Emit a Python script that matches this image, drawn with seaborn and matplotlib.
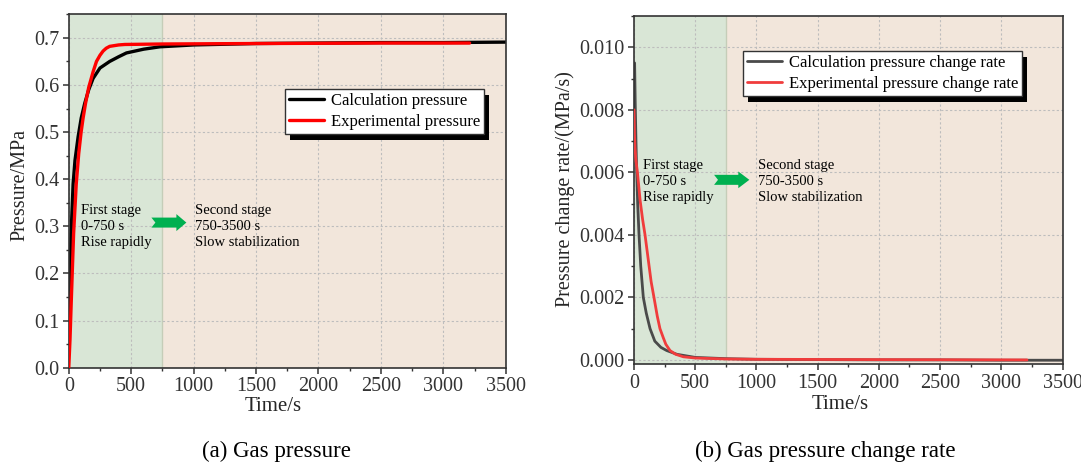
import numpy as np
import pandas as pd
import matplotlib
matplotlib.use("Agg")
import matplotlib.pyplot as plt
from matplotlib.patches import Polygon, Rectangle
from matplotlib.ticker import AutoMinorLocator, MultipleLocator
import seaborn as sns

# ---- data ----
# (a) gas pressure, MPa
calc_p_time = [0, 4, 10, 19, 35, 50, 75, 100, 128, 160, 195, 250, 328, 400, 462,
               600, 729, 1000, 1500, 2000, 2500, 3000, 3500]
calc_p_val = [0.085, 0.16, 0.22, 0.285, 0.39, 0.44, 0.49, 0.53, 0.561, 0.59, 0.614,
              0.636, 0.650, 0.660, 0.668, 0.676, 0.681, 0.685, 0.688, 0.689, 0.690,
              0.690, 0.691]
exp_p_time = [0, 10, 20, 39, 60, 80, 99, 115, 135, 160, 195, 222, 250, 275, 300,
              328, 400, 450, 750, 1500, 2500, 3210]
exp_p_val = [0.0, 0.06, 0.14, 0.285, 0.39, 0.455, 0.50, 0.53, 0.562, 0.595, 0.628,
             0.650, 0.663, 0.672, 0.678, 0.682, 0.685, 0.686, 0.687, 0.688, 0.689,
             0.689]

# (b) gas pressure change rate, MPa/s
calc_r_time = [5, 10, 16, 22, 30, 41, 55, 76, 100, 131, 170, 220, 267, 350, 500,
               750, 1000, 1500, 2000, 2500, 3000, 3500]
calc_r_val = [0.0095, 0.0082, 0.0070, 0.0060, 0.0050, 0.0040, 0.0030, 0.0020,
              0.0015, 0.0010, 0.0006, 0.0004, 0.0003, 0.00018, 0.00008, 0.00004,
              0.00002, 0.00001, 0.0, 0.0, -0.00001, -0.00001]
exp_r_time = [0, 4, 8, 15, 28, 50, 70, 90, 120, 140, 163, 190, 212, 240, 260, 294,
              340, 403, 500, 750, 1000, 2000, 3210]
exp_r_val = [0.0080, 0.0072, 0.0068, 0.0064, 0.0060, 0.0051, 0.0045, 0.0040,
             0.0031, 0.0025, 0.0020, 0.0014, 0.0010, 0.0007, 0.0005, 0.0003,
             0.00018, 0.0001, 0.00006, 0.00003, 0.00002, 0.00001, 0.0]

stage_lines_1 = ["First stage", "0-750 s", "Rise rapidly"]
stage_lines_2 = ["Second stage", "750-3500 s", "Slow stabilization"]
STAGE_SPLIT = 750
T_MAX = 3500

GREEN_BG = "#d9e6d6"
BEIGE_BG = "#f2e6db"
ARROW_GREEN = "#00b050"

sns.set_theme(style="ticks")
plt.rcParams["font.family"] = ["Liberation Serif", "DejaVu Serif"]
plt.rcParams["axes.edgecolor"] = "#333333"
plt.rcParams["xtick.color"] = "#333333"
plt.rcParams["ytick.color"] = "#333333"
plt.rcParams["text.color"] = "black"

fig = plt.figure(figsize=(10.81, 4.63), dpi=100)
ax1 = fig.add_axes([0.0636, 0.2058, 0.4043, 0.7633])
ax2 = fig.add_axes([0.5865, 0.2132, 0.3964, 0.7522])


def stage_background(ax):
    ax.axvspan(0, STAGE_SPLIT, color=GREEN_BG, zorder=0.1, lw=0)
    ax.axvspan(STAGE_SPLIT, T_MAX, color=BEIGE_BG, zorder=0.1, lw=0)
    ax.axvline(STAGE_SPLIT, color="#c5cdb8", lw=1.0, zorder=0.2)


def green_arrow(ax, x0, x1, xh, yc, hh, bh, notch):
    pts = [(x0, yc + bh), (xh, yc + bh), (xh, yc + hh), (x1, yc),
           (xh, yc - hh), (xh, yc - bh), (x0, yc - bh), (x0 + notch, yc)]
    ax.add_patch(Polygon(pts, closed=True, color=ARROW_GREEN, lw=0, zorder=3))


def style_axes(ax):
    ax.set_axisbelow(True)
    ax.grid(True, color="#bdbdbd", lw=0.8, linestyle=(0, (2, 2)), zorder=0.5)
    ax.xaxis.set_minor_locator(AutoMinorLocator(2))
    ax.yaxis.set_minor_locator(AutoMinorLocator(2))
    ax.tick_params(which="major", direction="out", length=4, width=1.1,
                   labelsize=14.5, pad=3)
    ax.tick_params(which="minor", direction="out", length=2.5, width=1.0)
    for s in ax.spines.values():
        s.set_visible(True)
        s.set_linewidth(1.2)
        s.set_color("#333333")


def shadow_legend(ax, leg, dx=5, dy=6):
    fig.canvas.draw()
    bb = leg.get_window_extent()
    inv = fig.transFigure.inverted()
    (x0, y0), (x1, y1) = inv.transform([(bb.x0 + dx, bb.y0 - dy),
                                         (bb.x1 + dx, bb.y1 - dy)])
    ax.add_patch(Rectangle((x0, y0), x1 - x0, y1 - y0, transform=fig.transFigure,
                           color="black", lw=0, zorder=4.9, clip_on=False))


# ---- (a) gas pressure ----
stage_background(ax1)
sns.lineplot(x=calc_p_time, y=calc_p_val, ax=ax1, color="black", lw=2.4,
             label="Calculation pressure", sort=False, zorder=2.5)
sns.lineplot(x=exp_p_time, y=exp_p_val, ax=ax1, color="#ff0000", lw=2.4,
             label="Experimental pressure", sort=False, zorder=2.6)
ax1.set_xlim(0, T_MAX)
ax1.set_ylim(0, 0.75)
ax1.xaxis.set_major_locator(MultipleLocator(500))
ax1.yaxis.set_major_locator(MultipleLocator(0.1))
ax1.yaxis.set_major_formatter(plt.FuncFormatter(lambda v, _: f"{v:.1f}"))
style_axes(ax1)
ax1.set_xlabel("Time/s", fontsize=15, labelpad=0)
ax1.set_ylabel("Pressure/MPa", fontsize=14.5)
ax1.xaxis.set_label_coords(0.467, -0.082)
ax1.yaxis.set_label_coords(-0.089, 0.517)

ax1.text(99, 0.299, "\n".join(stage_lines_1), fontsize=10.5, va="center",
         ha="left", linespacing=1.3, zorder=3)
ax1.text(1014, 0.299, "\n".join(stage_lines_2), fontsize=10.5, va="center",
         ha="left", linespacing=1.3, zorder=3)
green_arrow(ax1, 662, 942, 862, 0.308, 0.018, 0.0106, 32)

leg1 = ax1.legend(loc="upper left", bbox_to_anchor=(0.495, 0.79), borderaxespad=0,
                  fontsize=12, frameon=True, fancybox=False, framealpha=1,
                  edgecolor="#333333", handlelength=2.1, handletextpad=0.4,
                  labelspacing=0.3, borderpad=0.25)
leg1.get_frame().set_linewidth(1.0)
leg1.set_zorder(5)

# ---- (b) gas pressure change rate ----
stage_background(ax2)
sns.lineplot(x=calc_r_time, y=calc_r_val, ax=ax2, color="#4a4a4a", lw=2.0,
             label="Calculation pressure change rate", sort=False, zorder=2.5)
sns.lineplot(x=exp_r_time, y=exp_r_val, ax=ax2, color="#f03c3c", lw=2.0,
             label="Experimental pressure change rate", sort=False, zorder=2.6)
ax2.set_xlim(0, T_MAX)
ax2.set_ylim(-0.00014, 0.011)
ax2.xaxis.set_major_locator(MultipleLocator(500))
ax2.yaxis.set_major_locator(MultipleLocator(0.002))
ax2.yaxis.set_major_formatter(plt.FuncFormatter(lambda v, _: f"{v:.3f}"))
style_axes(ax2)
ax2.set_xlabel("Time/s", fontsize=15, labelpad=0)
ax2.set_ylabel("Pressure change rate/(MPa/s)", fontsize=14.5)
ax2.xaxis.set_label_coords(0.481, -0.088)
ax2.yaxis.set_label_coords(-0.138, 0.503)

ax2.text(71, 0.0057, "\n".join(stage_lines_1), fontsize=10.5, va="center",
         ha="left", linespacing=1.3, zorder=3)
ax2.text(1016, 0.0057, "\n".join(stage_lines_2), fontsize=10.5, va="center",
         ha="left", linespacing=1.3, zorder=3)
green_arrow(ax2, 654, 942, 852, 0.00576, 0.000267, 0.00016, 32)

leg2 = ax2.legend(loc="upper left", bbox_to_anchor=(0.254, 0.90), borderaxespad=0,
                  fontsize=12, frameon=True, fancybox=False, framealpha=1,
                  edgecolor="#333333", handlelength=2.1, handletextpad=0.4,
                  labelspacing=0.3, borderpad=0.25)
leg2.get_frame().set_linewidth(1.0)
leg2.set_zorder(5)

# captions
fig.text(276.6 / 1081, 1 - 451.7 / 463, "(a) Gas pressure", fontsize=16.5,
         ha="center", va="center")
fig.text(825 / 1081, 1 - 451.7 / 463, "(b) Gas pressure change rate", fontsize=16.5,
         ha="center", va="center")

shadow_legend(ax1, leg1)
shadow_legend(ax2, leg2)

fig.savefig("out.png", dpi=100)
